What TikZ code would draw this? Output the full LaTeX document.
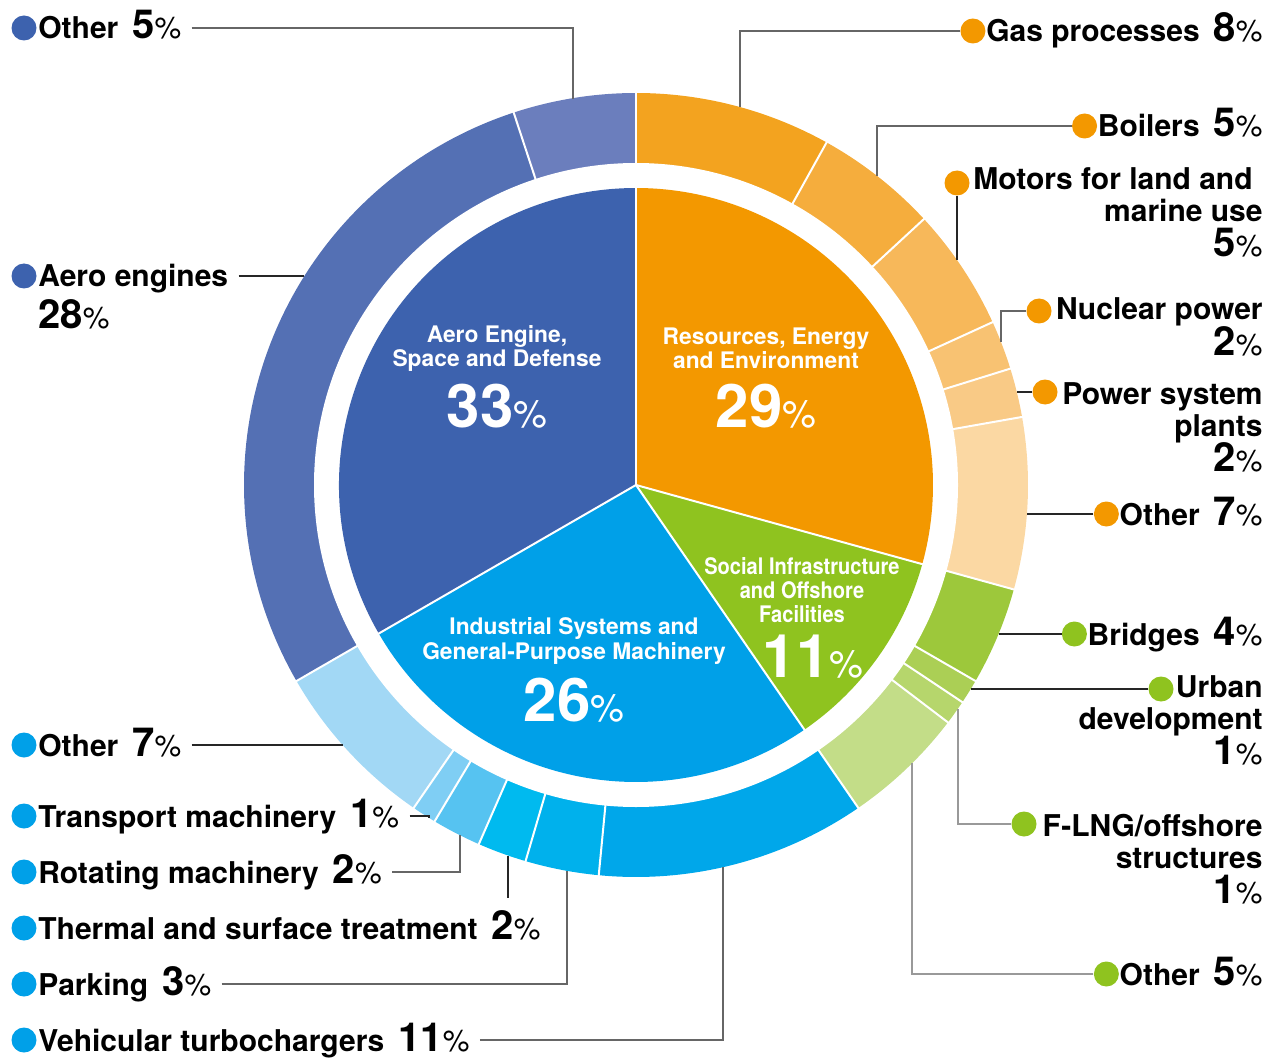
\documentclass[tikz,border=0pt]{standalone}
\usepackage{fontspec}
\setmainfont{TeX Gyre Heros}
\newfontfamily\condfont{TeX Gyre Heros}[FakeStretch=0.88]

\definecolor{resc}{HTML}{F39800}
\definecolor{socc}{HTML}{8FC31F}
\definecolor{indc}{HTML}{00A0E8}
\definecolor{aerc}{HTML}{3D62AE}
\definecolor{gasc}{HTML}{F3A31F}
\definecolor{boic}{HTML}{F5AD3D}
\definecolor{motc}{HTML}{F7B85A}
\definecolor{nucc}{HTML}{F8C272}
\definecolor{powc}{HTML}{F9CA86}
\definecolor{ooc}{HTML}{FBD8A3}
\definecolor{bric}{HTML}{9DC83B}
\definecolor{urbc}{HTML}{ABCF55}
\definecolor{flnc}{HTML}{B6D66C}
\definecolor{ogc}{HTML}{C3DD88}
\definecolor{vec}{HTML}{00A7EA}
\definecolor{pac}{HTML}{00B1EC}
\definecolor{thc}{HTML}{00BAEF}
\definecolor{roc}{HTML}{56C3F1}
\definecolor{trc}{HTML}{7FCEF4}
\definecolor{boc}{HTML}{A2D8F5}
\definecolor{aec}{HTML}{5470B4}
\definecolor{aoc}{HTML}{6B7EBD}

\newcommand{\pct}[1]{{\fontsize{20pt}{20pt}\selectfont #1}{\fontsize{15pt}{15pt}\selectfont\mdseries\%}}
\newcommand{\bigpct}[1]{{\fontsize{30pt}{30pt}\selectfont #1}{\fontsize{19pt}{19pt}\selectfont\mdseries\%}}
\newcommand{\labfont}{\fontsize{15pt}{16pt}\selectfont\bfseries\lineskiplimit-20pt\relax}

\tikzset{
  ldot/.style={circle, fill=#1, inner sep=0pt, minimum size=12.5pt},
  lab/.style={inner sep=0pt, font=\labfont},
  pienm/.style={inner sep=0pt, text=white, align=center, font=\fontsize{11.4pt}{12pt}\selectfont\bfseries},
  piepc/.style={inner sep=0pt, text=white, font=\bfseries},
  lead/.style={line width=0.6pt, draw=black!85},
  leadg/.style={lead, draw=black!60},
  leadl/.style={lead, draw=black!40},
  segsep/.style={white, line width=1pt},
}

\begin{document}
\begin{tikzpicture}[x=0.5pt, y=0.5pt]
  \useasboundingbox (0,0) rectangle (1279,1057);

  \begin{scope}[shift={(636,572)}]
    \foreach \a/\b/\c in {0/8/gasc, 8/13/boic, 13/18/motc, 18/20/nucc, 20/22/powc, 22/29/ooc,
        29/33/bric, 33/34/urbc, 34/35/flnc, 35/40/ogc,
        40/51/vec, 51/54/pac, 54/56/thc, 56/58/roc, 58/59/trc, 59/66/boc,
        66/94/aec, 94/99/aoc}
      \fill[\c] (0,0) -- ({90-\a*3.636364}:392) arc[start angle={90-\a*3.636364}, end angle={90-\b*3.636364}, radius=392] -- cycle;
    \fill[white] (0,0) circle[radius=322];
    \foreach \a/\b/\c in {0/29/resc, 29/40/socc, 40/66/indc, 66/99/aerc}
      \fill[\c] (0,0) -- ({90-\a*3.636364}:297) arc[start angle={90-\a*3.636364}, end angle={90-\b*3.636364}, radius=297] -- cycle;
    \foreach \a in {0,8,13,18,20,22,29,33,34,35,40,51,54,56,58,59,66,94}
      \draw[segsep] ({90-\a*3.636364}:321) -- ({90-\a*3.636364}:394);
    \foreach \a in {0,29,40,66}
      \draw[segsep] (0,0) -- ({90-\a*3.636364}:299);
  \end{scope}

  \node[pienm] (aerNm) at (497,709) {Aero Engine,\\Space and Defense};
  \node[piepc] (aerPc) at (497,651) {\bigpct{33}};
  \node[pienm] (resNm) at (766,709) {Resources, Energy\\and Environment};
  \node[piepc] (resPc) at (766,651) {\bigpct{29}};
  \node[pienm] (indNm) at (574,416) {Industrial Systems and\\General-Purpose Machinery};
  \node[piepc] (indPc) at (574,357) {\bigpct{26}};
  \node[pienm, font=\fontsize{11.4pt}{12pt}\selectfont\condfont\bfseries] (socNm) at (802,467) {Social Infrastructure\\and Offshore\\Facilities};
  \node[piepc] (socPc) at (813,400) {\bigpct{11}};

  \node[ldot=aerc] (aoDot) at (24,1029) {};
  \node[lab, anchor=base west] (aoTxt) at (38,1018) {Other\hspace{7pt}\pct{5}};
  \node[ldot=aerc] (aeDot) at (24,781) {};
  \node[lab, anchor=base west, align=left] (aeTxt) at (38,728) {Aero engines\\[5pt]\pct{28}};
  \node[ldot=indc] (boDot) at (24,312) {};
  \node[lab, anchor=base west] (boTxt) at (38,301) {Other\hspace{7pt}\pct{7}};
  \node[ldot=indc] (trDot) at (24,241) {};
  \node[lab, anchor=base west] (trTxt) at (38,230) {Transport machinery\hspace{7pt}\pct{1}};
  \node[ldot=indc] (roDot) at (24,185) {};
  \node[lab, anchor=base west] (roTxt) at (38,174) {Rotating machinery\hspace{7pt}\pct{2}};
  \node[ldot=indc] (thDot) at (24,129) {};
  \node[lab, anchor=base west] (thTxt) at (38,118) {Thermal and surface treatment\hspace{7pt}\pct{2}};
  \node[ldot=indc] (paDot) at (24,73) {};
  \node[lab, anchor=base west] (paTxt) at (38,62) {Parking\hspace{7pt}\pct{3}};
  \node[ldot=indc] (veDot) at (24,17) {};
  \node[lab, anchor=base west] (veTxt) at (38,6) {Vehicular turbochargers\hspace{7pt}\pct{11}};

  \node[lab, anchor=base east] (gasTxt) at (1263,1015) {Gas processes\hspace{7pt}\pct{8}};
  \node[ldot=resc, anchor=east] (gasDot) at ([yshift=5.5pt]gasTxt.base west) {};
  \node[lab, anchor=base east] (boiTxt) at (1263,920) {Boilers\hspace{7pt}\pct{5}};
  \node[ldot=resc, anchor=east] (boiDot) at ([yshift=5.5pt]boiTxt.base west) {};
  \node[lab, anchor=base east, align=right] (motTxt) at (1263,800) {Motors for land and\hspace*{5pt}\\marine use\\[1.5pt]\pct{5}};
  \node[ldot=resc] (motDot) at (957,874) {};
  \node[lab, anchor=base east, align=right] (nucTxt) at (1263,702) {Nuclear power\\[1.5pt]\pct{2}};
  \node[ldot=resc] (nucDot) at (1039,746) {};
  \node[lab, anchor=base east, align=right] (powTxt) at (1263,586) {Power system\\plants\\[1.5pt]\pct{2}};
  \node[ldot=resc] (powDot) at (1045,665) {};
  \node[lab, anchor=base east] (ooTxt) at (1263,532) {Other\hspace{7pt}\pct{7}};
  \node[ldot=resc, anchor=east] (ooDot) at ([yshift=5.5pt]ooTxt.base west) {};
  \node[lab, anchor=base east] (briTxt) at (1263,412) {Bridges\hspace{7pt}\pct{4}};
  \node[ldot=socc, anchor=east] (briDot) at ([yshift=5.5pt]briTxt.base west) {};
  \node[lab, anchor=base east, align=right] (urbTxt) at (1263,293) {Urban\\development\\[1.5pt]\pct{1}};
  \node[ldot=socc] (urbDot) at (1161,368) {};
  \node[lab, anchor=base east, align=right] (flnTxt) at (1263,154) {F-LNG/offshore\\structures\\[1.5pt]\pct{1}};
  \node[ldot=socc] (flnDot) at (1024,233) {};
  \node[lab, anchor=base east] (ogTxt) at (1263,72) {Other\hspace{7pt}\pct{5}};
  \node[ldot=socc, anchor=east] (ogDot) at ([yshift=5.5pt]ogTxt.base west) {};

  \coordinate (aoEnd) at (573,958);
  \coordinate (aeEnd) at (304,781);
  \coordinate (boEnd) at (342,313);
  \coordinate (trEnd) at (429,239);
  \coordinate (roEnd) at (460,222);
  \coordinate (thEnd) at (508,201);
  \coordinate (paEnd) at (567,186);
  \coordinate (veEnd) at (723,190);
  \coordinate (gasEnd) at (740,950);
  \coordinate (boiEnd) at (877,881);
  \coordinate (motEnd) at (957,797);
  \coordinate (nucEnd) at (1001,715);
  \coordinate (powEnd) at (1017,665);
  \coordinate (ooEnd) at (1027,543);
  \coordinate (briEnd) at (999,423);
  \coordinate (urbEnd) at (971,368);
  \coordinate (flnEnd) at (958,348);
  \coordinate (ogEnd) at (912,294);

  \draw[leadg] ([shift={(5pt,5.5pt)}]aoTxt.base east) -| (aoEnd);
  \draw[lead] (aeDot -| aeTxt.east) ++(5pt,0) -- (aeEnd);
  \draw[lead] ([shift={(5pt,5.5pt)}]boTxt.base east) -| (boEnd);
  \draw[lead] ([shift={(5pt,5.5pt)}]trTxt.base east) -| (trEnd);
  \draw[leadg] ([shift={(5pt,5.5pt)}]roTxt.base east) -| (roEnd);
  \draw[lead, shorten >=6pt] (thEnd) -- (thEnd |- thTxt.north);
  \draw[leadg] ([shift={(5pt,5.5pt)}]paTxt.base east) -| (paEnd);
  \draw[leadg] ([shift={(5pt,5.5pt)}]veTxt.base east) -| (veEnd);

  \draw[leadg] (gasDot) -| (gasEnd);
  \draw[leadg] (boiDot) -| (boiEnd);
  \draw[lead] (motDot) -- (motEnd);
  \draw[leadg] (nucDot) -| (nucEnd);
  \draw[lead] (powDot) -- (powEnd);
  \draw[lead] (ooDot) -- (ooEnd);
  \draw[lead] (briDot) -- (briEnd);
  \draw[lead] (urbDot) -- (urbEnd);
  \draw[leadl] (flnDot) -| (flnEnd);
  \draw[leadl] (ogDot) -| (ogEnd);
\end{tikzpicture}
\end{document}
